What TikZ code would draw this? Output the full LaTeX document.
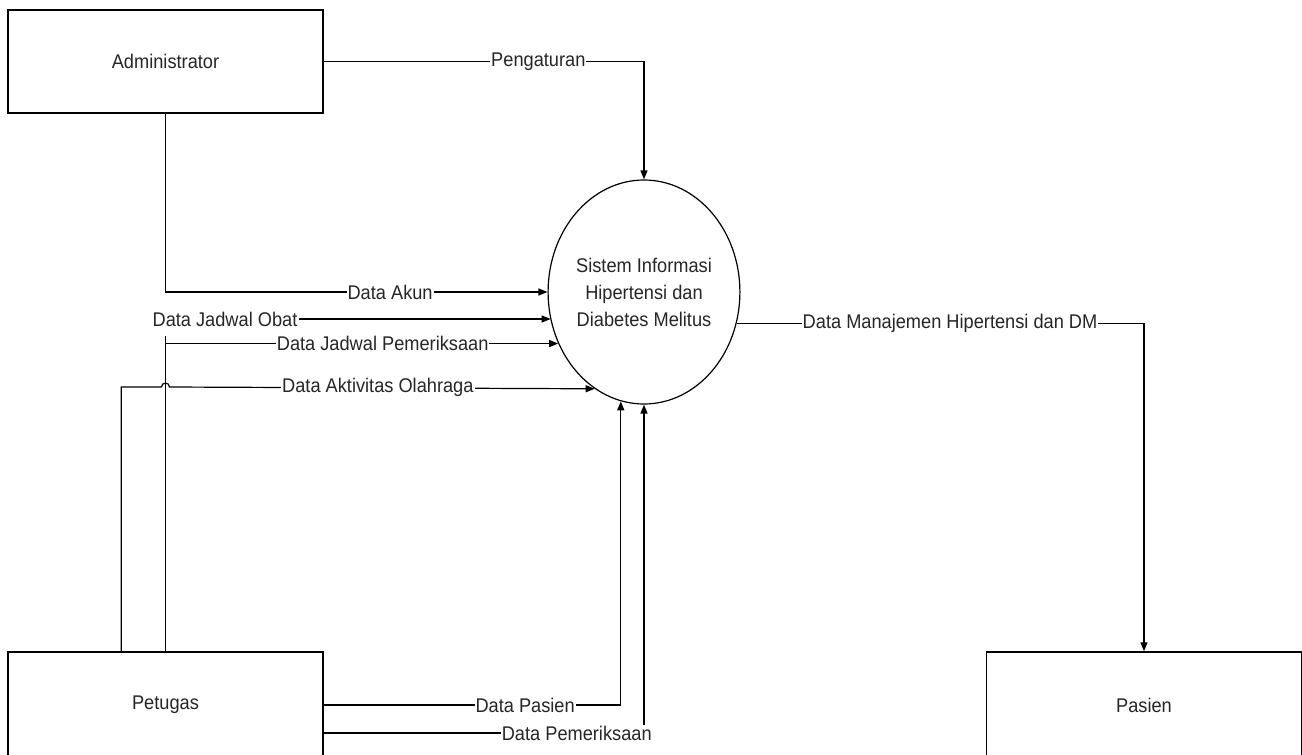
\documentclass[tikz,border=0pt]{standalone}
\usepackage{fontspec}
\setmainfont{Liberation Sans}[FakeStretch=0.92]
\usetikzlibrary{shapes.geometric,arrows.meta,calc}
\begin{document}
\begin{tikzpicture}[x=1pt,y=-1pt,
  every node/.style={font=\fontsize{19.8}{27}\selectfont, text=black!85},
  entity/.style={draw,line width=1.5pt,minimum width=315pt,minimum height=103pt,inner sep=0pt},
  proc/.style={draw,ellipse,line width=1.2pt,minimum width=182pt,minimum height=224pt,inner sep=0pt,align=center},
  flow/.style={draw,line width=1.2pt,-{Triangle[length=9pt,width=7pt]}},
  plain/.style={draw,line width=1.2pt},
  lbl/.style={fill=white,inner sep=1pt}
]
\useasboundingbox (0,0) rectangle (1302,755);
\node[entity] (admin) at (165.5,61.5) {Administrator};
\node[entity,minimum height=106pt] (petugas) at (165.5,705) {Petugas};
\node[entity,minimum height=106pt] (pasien) at (1144,705) {Pasien};
\node[proc] (sys) at (644,292) {Sistem Informasi\\Hipertensi dan\\Diabetes Melitus};
\node[inner sep=1pt] (obat) at (225,319) {Data Jadwal Obat};
\coordinate (vtop) at (165.5,336);

% Administrator flows
\draw[flow] (admin.east) -| node[lbl,pos=0.335]{Pengaturan} (sys.north);
\draw[flow] (admin.south) |- node[lbl,pos=0.794]{Data Akun} (sys.west);

% Petugas flows
\draw[flow] (obat.east) -- (obat.east -| sys.197);
\draw[plain] (petugas.north) -- (vtop);
\draw[flow] (petugas.north |- sys.211) -- node[lbl,pos=0.553]{Data Jadwal Pemeriksaan} (sys.211);
\draw[flow] ($(petugas.north west)+(114,0)$) |- (161.5,387)
   arc[start angle=180,end angle=360,radius=4]
   -- node[lbl,pos=0.49]{Data Aktivitas Olahraga} (sys.243);
\draw[flow] (petugas.east) -| node[lbl,pos=0.339]{Data Pasien} (sys.258);
\draw[flow] ($(petugas.east)+(0,28)$) -| node[lbl,pos=0.395]{Data Pemeriksaan} (sys.south);

% Output to Pasien
\draw[flow] (sys.341) -| node[lbl,pos=0.262]{Data Manajemen Hipertensi dan DM} (pasien.north);
\end{tikzpicture}
\end{document}
